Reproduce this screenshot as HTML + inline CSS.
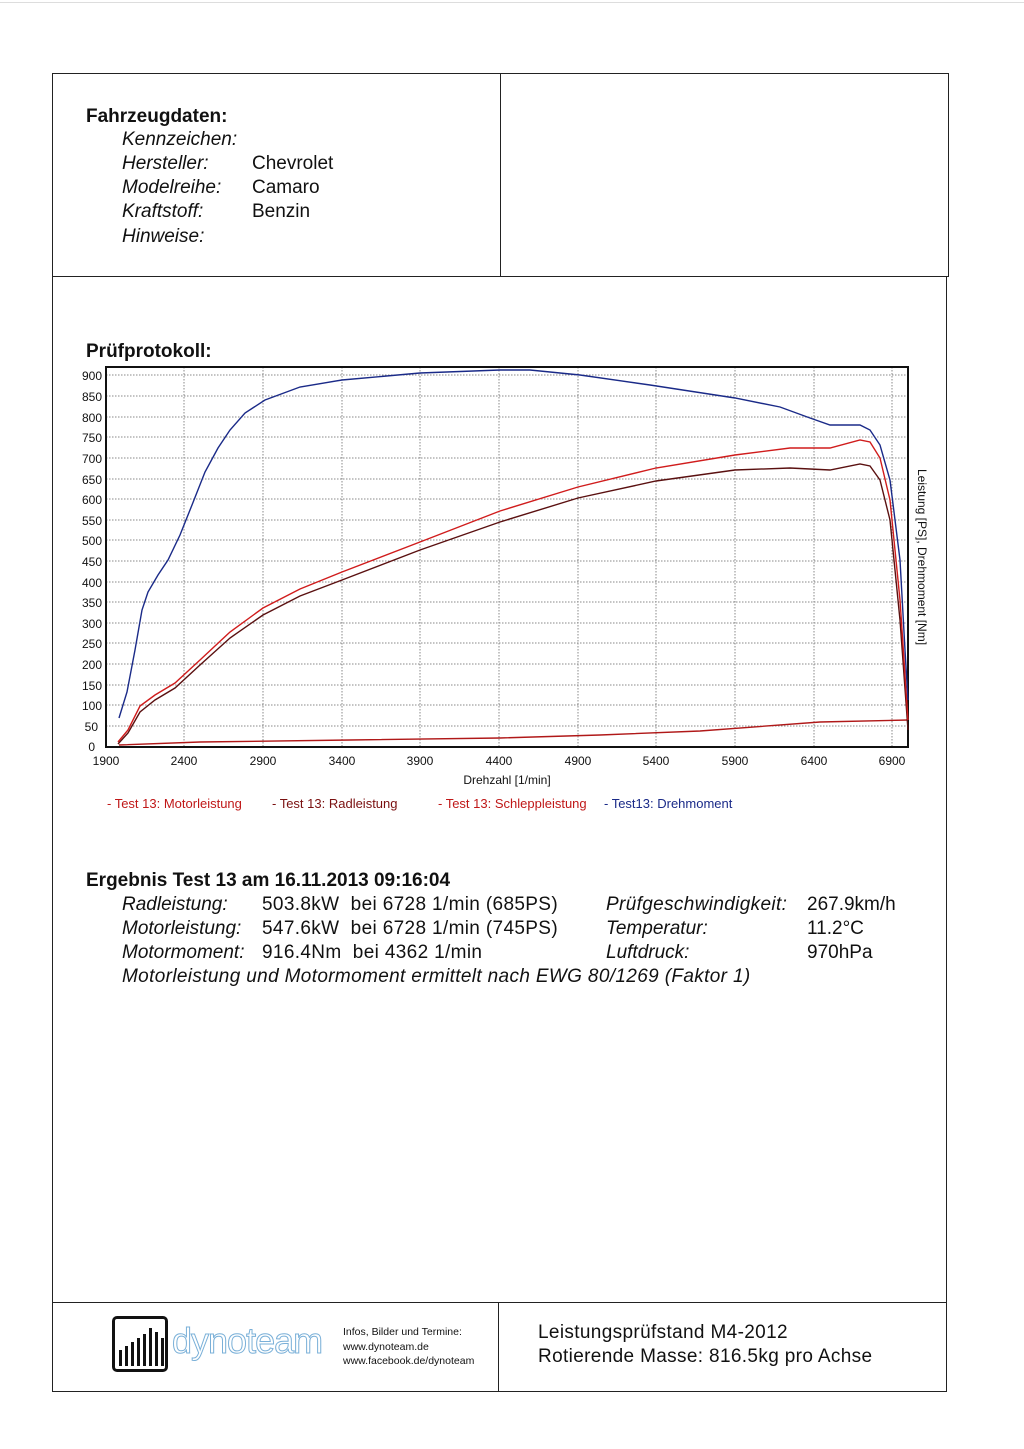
<!DOCTYPE html>
<html><head><meta charset="utf-8"><style>
body{margin:0;background:#fff;width:1024px;height:1449px;position:relative;font-family:"Liberation Sans",sans-serif;color:#111;overflow:hidden}
.a{position:absolute;white-space:nowrap}
.ln{position:absolute;background:#222}
.h{font-size:19px;font-weight:bold}
.t{font-size:19px}
.i{font-style:italic}
.w{letter-spacing:0.35px}
</style></head><body>
<div class="ln" style="left:0;top:2px;width:1024px;height:1px;background:#ddd"></div>
<div class="ln" style="left:52px;top:73px;width:897px;height:1px"></div>
<div class="ln" style="left:52px;top:73px;width:1px;height:1319px"></div>
<div class="ln" style="left:948px;top:73px;width:1px;height:204px"></div>
<div class="ln" style="left:946px;top:277px;width:1px;height:1115px"></div>
<div class="ln" style="left:52px;top:276px;width:897px;height:1px"></div>
<div class="ln" style="left:500px;top:73px;width:1px;height:204px"></div>
<div class="ln" style="left:52px;top:1302px;width:895px;height:1px"></div>
<div class="ln" style="left:498px;top:1302px;width:1px;height:90px"></div>
<div class="ln" style="left:52px;top:1391px;width:895px;height:1px"></div>

<div class="a h" style="left:86px;top:106px">Fahrzeugdaten:</div>
<div class="a t i" style="left:122px;top:129px">Kennzeichen:</div>
<div class="a t i" style="left:122px;top:153px">Hersteller:</div>
<div class="a t i" style="left:122px;top:177px">Modelreihe:</div>
<div class="a t i" style="left:122px;top:201px">Kraftstoff:</div>
<div class="a t i" style="left:122px;top:226px">Hinweise:</div>
<div class="a t" style="left:252px;top:153px">Chevrolet</div>
<div class="a t" style="left:252px;top:177px">Camaro</div>
<div class="a t" style="left:252px;top:201px">Benzin</div>

<div class="a h" style="left:86px;top:341px">Prüfprotokoll:</div>

<svg class="a" style="left:0;top:0" width="1024" height="830" font-family="Liberation Sans, sans-serif">
<g stroke="#888" stroke-width="1" stroke-dasharray="1.5,1.5">
<line x1="106" y1="375" x2="908" y2="375"/><line x1="106" y1="396" x2="908" y2="396"/><line x1="106" y1="417" x2="908" y2="417"/><line x1="106" y1="437" x2="908" y2="437"/><line x1="106" y1="458" x2="908" y2="458"/><line x1="106" y1="479" x2="908" y2="479"/><line x1="106" y1="499" x2="908" y2="499"/><line x1="106" y1="520" x2="908" y2="520"/><line x1="106" y1="540" x2="908" y2="540"/><line x1="106" y1="561" x2="908" y2="561"/><line x1="106" y1="582" x2="908" y2="582"/><line x1="106" y1="602" x2="908" y2="602"/><line x1="106" y1="623" x2="908" y2="623"/><line x1="106" y1="643" x2="908" y2="643"/><line x1="106" y1="664" x2="908" y2="664"/><line x1="106" y1="685" x2="908" y2="685"/><line x1="106" y1="705" x2="908" y2="705"/><line x1="106" y1="726" x2="908" y2="726"/>
<line x1="184" y1="367" x2="184" y2="747"/><line x1="263" y1="367" x2="263" y2="747"/><line x1="342" y1="367" x2="342" y2="747"/><line x1="420" y1="367" x2="420" y2="747"/><line x1="499" y1="367" x2="499" y2="747"/><line x1="578" y1="367" x2="578" y2="747"/><line x1="656" y1="367" x2="656" y2="747"/><line x1="735" y1="367" x2="735" y2="747"/><line x1="814" y1="367" x2="814" y2="747"/><line x1="892" y1="367" x2="892" y2="747"/>
</g>
<rect x="106" y="367" width="802" height="380" fill="none" stroke="#111" stroke-width="2"/>
<g font-size="12" fill="#111" text-anchor="end">
<text x="102" y="380">900</text><text x="102" y="401">850</text><text x="102" y="422">800</text><text x="102" y="442">750</text><text x="102" y="463">700</text><text x="102" y="484">650</text><text x="102" y="504">600</text><text x="102" y="525">550</text><text x="102" y="545">500</text><text x="102" y="566">450</text><text x="102" y="587">400</text><text x="102" y="607">350</text><text x="102" y="628">300</text><text x="102" y="648">250</text><text x="102" y="669">200</text><text x="102" y="690">150</text><text x="102" y="710">100</text><text x="98" y="731">50</text><text x="95" y="751">0</text>
</g>
<g font-size="12" fill="#111" text-anchor="middle">
<text x="106" y="765">1900</text><text x="184" y="765">2400</text><text x="263" y="765">2900</text><text x="342" y="765">3400</text><text x="420" y="765">3900</text><text x="499" y="765">4400</text><text x="578" y="765">4900</text><text x="656" y="765">5400</text><text x="735" y="765">5900</text><text x="814" y="765">6400</text><text x="892" y="765">6900</text>
<text x="507" y="784">Drehzahl [1/min]</text>
</g>
<text transform="translate(918,557) rotate(90)" font-size="12" fill="#111" text-anchor="middle">Leistung [PS], Drehmoment [Nm]</text>
<g fill="none" stroke-width="1.4">
<polyline stroke="#b01818" points="119,745 200,742 350,740 500,738 600,735 700,731 820,722 908,720"/>
<polyline stroke="#5a1010" points="118,744 128,733 140,712 155,700 175,688 200,665 230,638 263,615 300,596 342,580 420,550 500,522 578,498 656,481 735,470 790,468 830,470 860,464 870,466 880,480 890,520 900,620 908,730"/>
<polyline stroke="#d01c1c" points="118,742 128,730 140,706 155,695 175,683 200,660 230,632 263,608 300,589 342,572 420,542 500,511 578,487 656,468 735,455 790,448 830,448 860,440 870,442 880,458 890,500 900,600 908,720"/>
<polyline stroke="#1a2a88" points="119,718 127,692 135,650 142,610 148,592 158,575 168,560 180,535 192,505 205,472 218,448 230,430 245,413 265,400 300,387 342,380 420,373 500,370 530,370 580,375 650,385 735,398 780,407 810,418 830,425 860,425 870,430 880,445 890,480 900,560 905,650 908,700"/>
</g>
<g font-size="13">
<text x="107" y="808" fill="#c01818">- Test 13: Motorleistung</text>
<text x="272" y="808" fill="#7a1010">- Test 13: Radleistung</text>
<text x="438" y="808" fill="#c01818">- Test 13: Schleppleistung</text>
<text x="604" y="808" fill="#1a2a88">- Test13: Drehmoment</text>
</g>
</svg>

<div class="a h" style="left:86px;top:870px">Ergebnis Test 13 am 16.11.2013 09:16:04</div>
<div class="a t i" style="left:122px;top:894px">Radleistung:</div>
<div class="a t i" style="left:122px;top:918px">Motorleistung:</div>
<div class="a t i" style="left:122px;top:942px">Motormoment:</div>
<div class="a t i w" style="left:122px;top:966px">Motorleistung und Motormoment ermittelt nach EWG 80/1269 (Faktor 1)</div>
<div class="a t w" style="left:262px;top:894px">503.8kW&nbsp; bei 6728 1/min (685PS)</div>
<div class="a t w" style="left:262px;top:918px">547.6kW&nbsp; bei 6728 1/min (745PS)</div>
<div class="a t w" style="left:262px;top:942px">916.4Nm&nbsp; bei 4362 1/min</div>
<div class="a t i w" style="left:606px;top:894px">Prüfgeschwindigkeit:</div>
<div class="a t i" style="left:606px;top:918px">Temperatur:</div>
<div class="a t i" style="left:606px;top:942px">Luftdruck:</div>
<div class="a t" style="left:807px;top:894px">267.9km/h</div>
<div class="a t" style="left:807px;top:918px">11.2°C</div>
<div class="a t" style="left:807px;top:942px">970hPa</div>

<div class="a" style="left:112px;top:1316px;width:56px;height:56px;border:3px solid #111;border-radius:5px;box-sizing:border-box"></div>
<svg class="a" style="left:116px;top:1320px" width="50" height="50"><g fill="#111"><rect x="3" y="30" width="3" height="16"/><rect x="9" y="26" width="3" height="20"/><rect x="15" y="22" width="3" height="24"/><rect x="21" y="18" width="3" height="28"/><rect x="27" y="14" width="3" height="32"/><rect x="33" y="8" width="3" height="38"/><rect x="39" y="12" width="3" height="34"/><rect x="45" y="18" width="3" height="28"/></g></svg>
<div class="a" style="left:172px;top:1320px;font-size:36px;color:#fff;-webkit-text-stroke:1px #7ab0d8;letter-spacing:-1px">dynoteam</div>
<div class="a" style="left:343px;top:1325px;font-size:10.5px;line-height:14.5px">Infos, Bilder und Termine:<br>www.dynoteam.de<br>www.facebook.de/dynoteam</div>
<div class="a w" style="left:538px;top:1321px;font-size:19px;line-height:24px">Leistungsprüfstand M4-2012<br>Rotierende Masse: 816.5kg pro Achse</div>
</body></html>
